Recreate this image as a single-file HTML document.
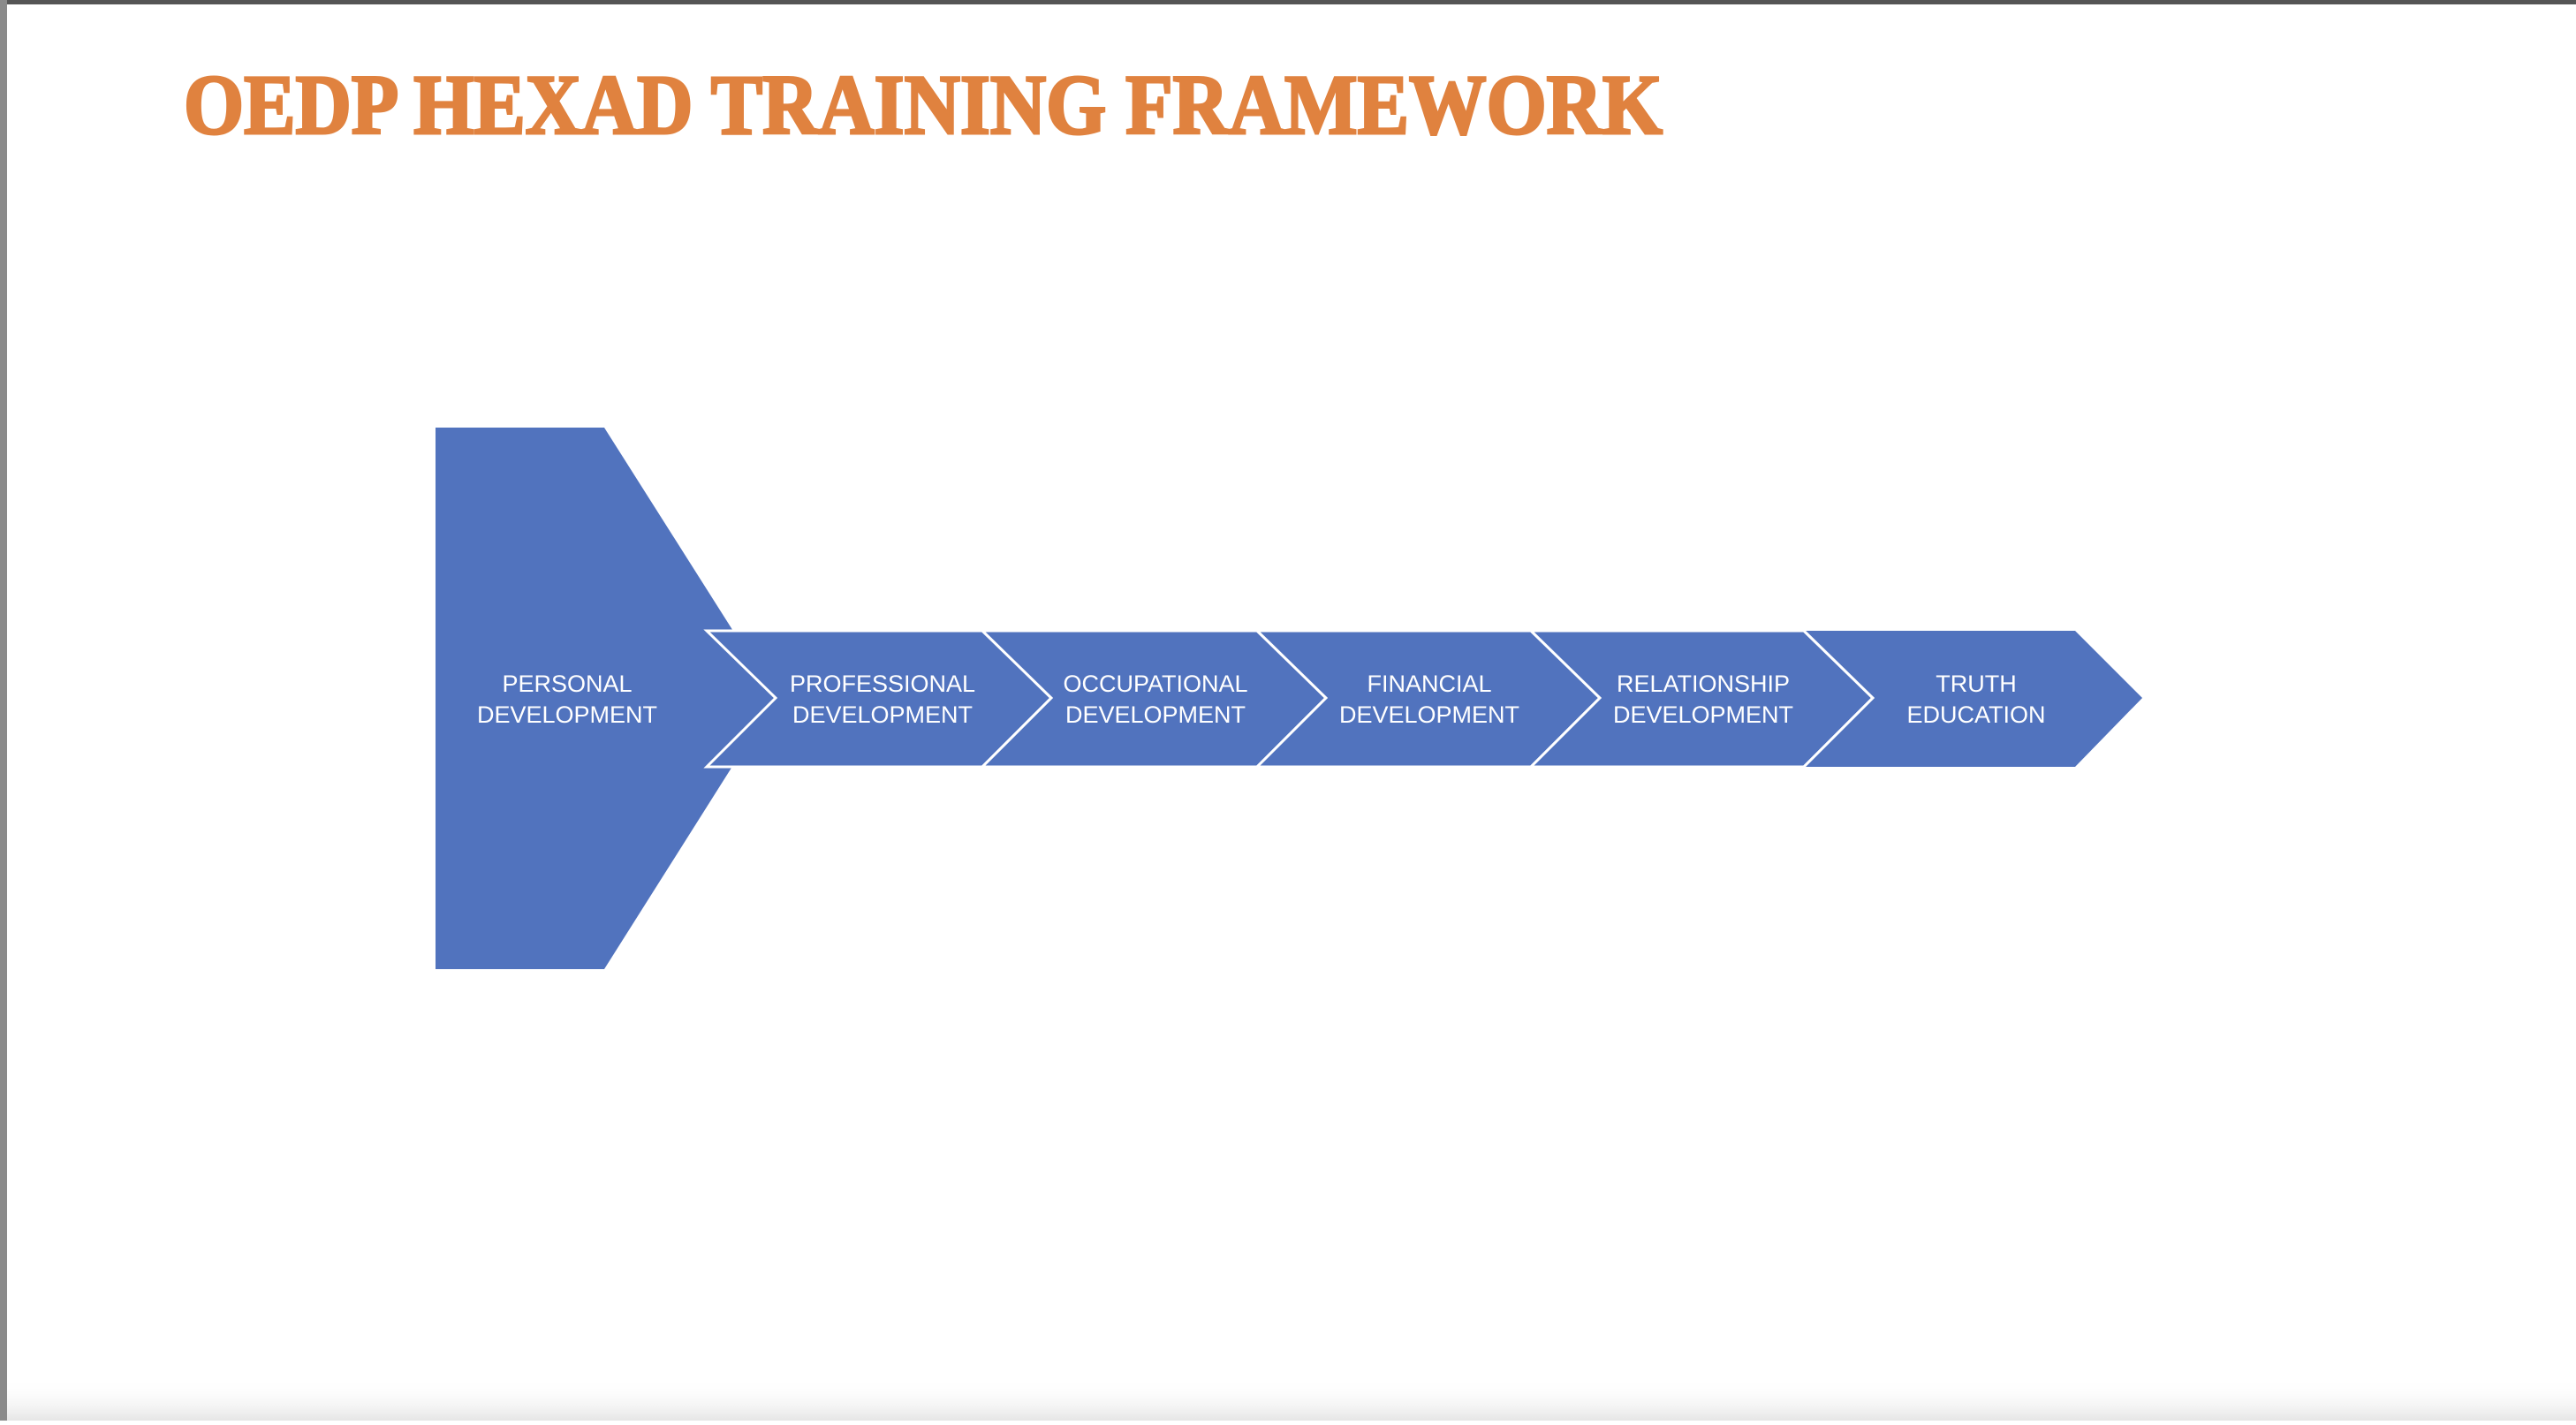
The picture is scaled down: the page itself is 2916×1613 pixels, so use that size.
<!DOCTYPE html>
<html><head><meta charset="utf-8"><style>
html,body{margin:0;padding:0;background:#fff;}
body{width:2916px;height:1608px;overflow:hidden;position:relative;}
</style></head><body>
<svg width="2916" height="1608" viewBox="0 0 2916 1608" xmlns="http://www.w3.org/2000/svg">
<defs>
<linearGradient id="bot" x1="0" y1="0" x2="0" y2="1">
<stop offset="0" stop-color="#fff" stop-opacity="0"/>
<stop offset="1" stop-color="#e6e6e6"/>
</linearGradient>
</defs>
<rect x="0" y="0" width="2916" height="1608" fill="#fff"/>
<rect x="0" y="1560" width="2916" height="48" fill="url(#bot)"/>
<rect x="0" y="0" width="2916" height="5" fill="#555"/>
<rect x="0" y="0" width="8" height="1608" fill="#8a8a8a"/>
<text x="208" y="151" font-family="Liberation Serif, serif" font-weight="bold" font-size="96" fill="#E0823F" stroke="#E0823F" stroke-width="3" textLength="1674" lengthAdjust="spacingAndGlyphs">OEDP HEXAD  TRAINING FRAMEWORK</text>
<polygon points="493,484 684,484 878,790 684,1097 493,1097" fill="#5173BE"/>
<g fill="#5173BE" stroke="#fff" stroke-width="3">
<polygon points="800,714 1112,714 1190,790 1112,868 800,868 878,790"/>
<polygon points="1112,714 1423,714 1501,790 1423,868 1112,868 1190,790"/>
<polygon points="1423,714 1733,714 1811,790 1733,868 1423,868 1501,790"/>
<polygon points="1733,714 2042,714 2120,790 2042,868 1733,868 1811,790"/>
<polygon points="2042,714 2349,714 2427,790 2349,868 2042,868 2120,790"/>
</g>
<polygon points="2042,714 2349,714 2425,790 2349,868 2042,868 2120,790" fill="#5173BE" stroke="none"/>
<polyline points="2042,714 2120,790 2042,868" fill="none" stroke="#fff" stroke-width="3"/>
<g font-family="Liberation Sans, sans-serif" font-size="27" fill="#fff" text-anchor="middle">
<text x="642" y="783">PERSONAL</text><text x="642" y="818">DEVELOPMENT</text>
<text x="999" y="783">PROFESSIONAL</text><text x="999" y="818">DEVELOPMENT</text>
<text x="1308" y="783">OCCUPATIONAL</text><text x="1308" y="818">DEVELOPMENT</text>
<text x="1618" y="783">FINANCIAL</text><text x="1618" y="818">DEVELOPMENT</text>
<text x="1928" y="783">RELATIONSHIP</text><text x="1928" y="818">DEVELOPMENT</text>
<text x="2237" y="783">TRUTH</text><text x="2237" y="818">EDUCATION</text>
</g>
</svg>
</body></html>
